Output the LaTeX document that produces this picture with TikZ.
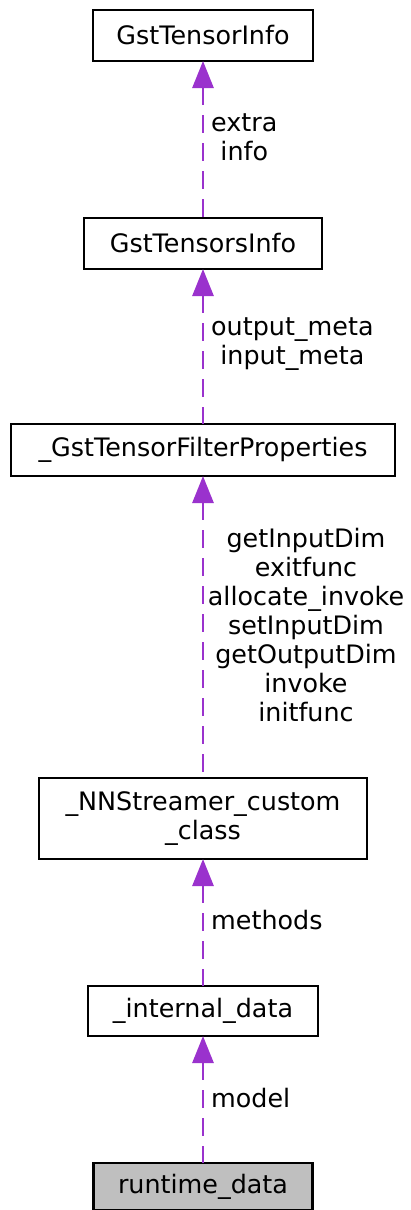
\documentclass[tikz,border=0pt]{standalone}
\usepackage{fontspec}
\setmainfont{DejaVu Sans}
\usetikzlibrary{arrows.meta}
\definecolor{edgecol}{HTML}{9A32CD}
\definecolor{boxgray}{HTML}{BFBFBF}
\begin{document}
\begin{tikzpicture}[x=1pt,y=-1pt,
  every node/.style={font=\fontsize{25.4}{29}\selectfont},
  classbox/.style={draw=black, line width=2.5pt, fill=white, inner sep=0pt, outer sep=0pt, align=center},
  rel/.style={draw=edgecol, line width=2.8pt, dash pattern=on 18pt off 10pt, {Triangle[width=21pt,length=27pt]}-},
  lbl/.style={inner sep=0pt, align=center, text=black}]
\useasboundingbox (0,0) rectangle (411,1210);
\node[classbox, minimum width=220pt, minimum height=51pt] (gti) at (203,35.5) {GstTensorInfo};
\node[classbox, minimum width=238pt, minimum height=51pt] (gtsi) at (203,243.5) {GstTensorsInfo};
\node[classbox, minimum width=384pt, minimum height=52pt] (gtfp) at (203,450) {\_GstTensorFilterProperties};
\node[classbox, minimum width=328pt, minimum height=81pt] (nnc) at (203,818.5) {\_NNStreamer\_custom\\\_class};
\node[classbox, minimum width=230pt, minimum height=50pt] (idata) at (203,1011) {\_internal\_data};
\node[classbox, fill=boxgray, minimum width=219pt, minimum height=47pt] (rt) at (203,1186.5) {runtime\_data};
\draw[rel] (gti.south) -- (gtsi.north);
\draw[rel] (gtsi.south) -- (gtfp.north);
\draw[rel] (gtfp.south) -- (nnc.north);
\draw[rel] (nnc.south) -- (idata.north);
\draw[rel] (idata.south) -- (rt.north);
\node[lbl, anchor=west] (l1) at (211,137.5) {extra\\info};
\node[lbl, anchor=west] (l2) at (211,344) {output\_meta\\input\_meta};
\node[lbl] (l3) at (306,625) {getInputDim\\exitfunc\\allocate\_invoke\\setInputDim\\getOutputDim\\invoke\\initfunc};
\node[lbl, anchor=west] (l4) at (211,920) {methods};
\node[lbl, anchor=west] (l5) at (211,1098) {model};
\end{tikzpicture}
\end{document}
